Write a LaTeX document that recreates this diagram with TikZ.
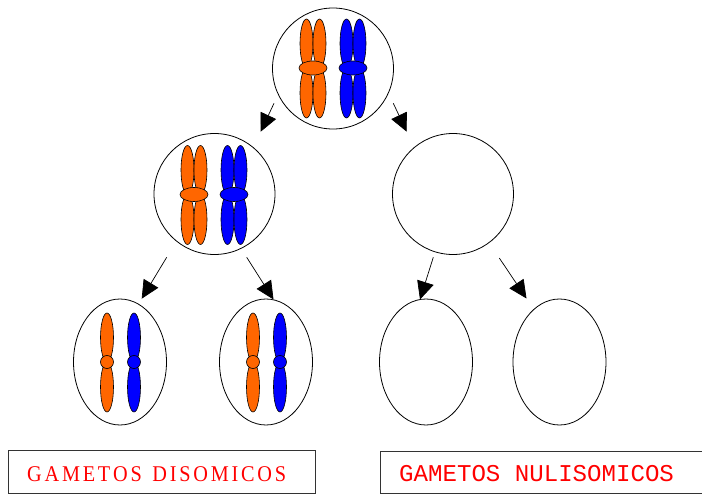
\documentclass[tikz,border=0pt]{standalone}
\usepackage{fontspec}
\usetikzlibrary{shapes.geometric,arrows.meta}
\newfontfamily\labelserif{Liberation Serif}
\newfontfamily\labelmono{Liberation Mono}
\newcommand\lsp{\kern3.1pt}
\definecolor{chromA}{HTML}{FF6600}
\definecolor{chromB}{HTML}{0000FF}
\definecolor{labelred}{HTML}{FF0000}

\tikzset{
  cell/.style={circle, draw=black, line width=0.8pt, inner sep=0pt, minimum size=121pt},
  gamete/.style={ellipse, draw=black, line width=0.8pt, inner sep=0pt, minimum width=93pt, minimum height=126pt},
  chrom/.style={draw=black, line width=0.6pt, fill=#1},
  arr/.style={line width=0.7pt, -{Triangle[length=18pt, width=17pt]}},
  labelbox/.style={draw=black!80, line width=0.8pt, inner sep=0pt, anchor=north west},
  labeltext/.style={text=labelred, inner sep=0pt, anchor=base west},
  % replicated chromosome: two sister chromatids joined at the centromere
  pics/dyad/.style={code={
    \filldraw[chrom=#1] (-6.5,-24.5) ellipse [x radius=6.5, y radius=24.5];
    \filldraw[chrom=#1] (6.5,-24.5) ellipse [x radius=6.5, y radius=24.5];
    \filldraw[chrom=#1] (-6.5,25) ellipse [x radius=6.5, y radius=25];
    \filldraw[chrom=#1] (6.5,25) ellipse [x radius=6.5, y radius=25];
    \filldraw[chrom=#1] (0,0) ellipse [x radius=14, y radius=7];
  }},
  % single chromatid
  pics/mono/.style={code={
    \filldraw[chrom=#1] (0,-24.5) ellipse [x radius=6.5, y radius=24.5];
    \filldraw[chrom=#1] (0,25) ellipse [x radius=6.5, y radius=25];
    \filldraw[chrom=#1] (0,0) circle [radius=6.5];
  }}
}

\begin{document}
\begin{tikzpicture}[x=1pt, y=-1pt]
  \useasboundingbox (0,0) rectangle (702,494);

  % cells
  \node[cell] (top)  at (333,68.5) {};
  \node[cell] (midL) at (214.5,194) {};
  \node[cell] (midR) at (453,194) {};
  \node[gamete] (g1) at (120,362) {};
  \node[gamete] (g2) at (266,362) {};
  \node[gamete] (g3) at (426,362) {};
  \node[gamete] (g4) at (559.5,362) {};

  % chromosomes
  \foreach \c/\x/\y in {chromA/313/68, chromB/353/68, chromA/194/194.5, chromB/234/194.5}{
    \path (\x,\y) pic {dyad=\c};
  }
  \foreach \c/\x in {chromA/107, chromB/134, chromA/253, chromB/280}{
    \path (\x,362) pic {mono=\c};
  }

  % arrow end points
  \coordinate (a1s) at (274,103.3);   \coordinate (a1e) at (260.7,131.7);
  \coordinate (a2s) at (393.3,103.3); \coordinate (a2e) at (406.7,131.7);
  \coordinate (a3s) at (166.7,257.3); \coordinate (a3e) at (141.7,298.7);
  \coordinate (a4s) at (246.7,257.3); \coordinate (a4e) at (273.5,299.5);
  \coordinate (a5s) at (433.3,257.3); \coordinate (a5e) at (420,299.5);
  \coordinate (a6s) at (499.3,258);   \coordinate (a6e) at (526.5,298.5);

  \foreach \i in {1,...,6}{
    \draw[arr] (a\i s) -- (a\i e);
  }

  % labels
  \node[labelbox, minimum width=307, minimum height=43] (box1) at (8,450) {};
  \node[labelbox, minimum width=322, minimum height=42] (box2) at (380,451) {};
  \node[labeltext, font=\labelserif\fontsize{22.5}{22.5}\selectfont] (lab1) at (27,481.5)
    {\scalebox{0.9}[1]{G\lsp A\lsp M\lsp E\lsp T\lsp O\lsp S\lsp\ \lsp D\lsp I\lsp S\lsp O\lsp M\lsp I\lsp C\lsp O\lsp S}};
  \node[labeltext, font=\labelmono\fontsize{24.1}{24.1}\selectfont] (lab2) at (399,481) {GAMETOS NULISOMICOS};
\end{tikzpicture}
\end{document}
